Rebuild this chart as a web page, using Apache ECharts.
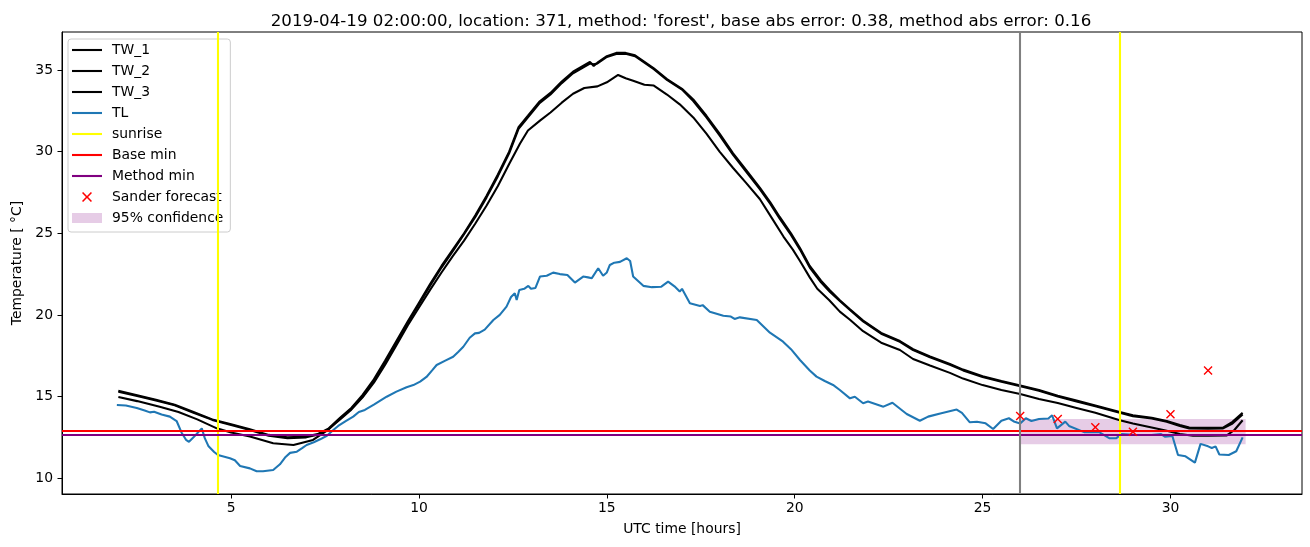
<!DOCTYPE html>
<html>
<head>
<meta charset="utf-8">
<script src="https://cdn.jsdelivr.net/npm/echarts@6/dist/echarts.min.js"></script>
<style>
html,body{margin:0;padding:0;background:#fff;}
#chart{width:1310px;height:547px;}
</style>
</head>
<body>
<div id="chart"></div>
<script>
// ---- data ----
const titleText = "2019-04-19 02:00:00, location: 371, method: 'forest', base abs error: 0.38, method abs error: 0.16";
const xTicks = [5, 10, 15, 20, 25, 30];
const yTicks = [10, 15, 20, 25, 30, 35];

const twTime = [2.0,2.5,3.0,3.5,4.0,4.5,5.0,5.5,6.0,6.5,7.0,7.3,7.6,7.9,8.2,8.5,8.8,9.1,9.4,9.7,10.0,10.3,10.6,10.9,11.2,11.5,11.8,12.1,12.4,12.65,12.9,13.2,13.5,13.8,14.1,14.4,14.55,14.65,14.75,15.0,15.25,15.5,15.75,16.0,16.25,16.6,17.0,17.3,17.65,18.0,18.36,18.7,19.07,19.35,19.6,19.9,20.14,20.4,20.7,20.94,21.2,21.47,21.82,22.3,22.8,23.15,23.6,24.13,24.48,25.0,25.5,25.95,26.5,27.0,27.5,28.0,28.65,29.0,29.5,29.9,30.25,30.5,31.0,31.4,31.65,31.92];
const tw1 = [15.35,15.08,14.8,14.5,14.05,13.6,13.3,13.0,12.65,12.5,12.55,12.7,13.05,13.7,14.3,15.1,16.05,17.2,18.4,19.6,20.75,21.9,23.0,24.0,25.0,26.1,27.3,28.6,30.0,31.5,32.2,33.05,33.6,34.3,34.9,35.3,35.5,35.25,35.45,35.85,36.05,36.05,35.9,35.5,35.1,34.45,33.85,33.2,32.2,31.1,29.9,28.9,27.8,26.9,26.0,25.0,24.1,23.0,22.1,21.5,20.9,20.35,19.65,18.9,18.4,17.9,17.45,17.0,16.65,16.25,15.95,15.7,15.4,15.05,14.75,14.45,14.05,13.85,13.7,13.5,13.25,13.1,13.08,13.1,13.45,14.0];
const tw2 = [15.3,15.03,14.76,14.46,14.0,13.57,13.25,12.95,12.6,12.45,12.5,12.66,13.0,13.65,14.25,15.0,15.95,17.1,18.3,19.5,20.65,21.8,22.9,23.9,24.95,26.0,27.2,28.5,29.9,31.4,32.1,32.95,33.5,34.2,34.8,35.2,35.4,35.35,35.4,35.8,35.98,36.0,35.85,35.45,35.05,34.4,33.8,33.1,32.1,31.0,29.8,28.8,27.7,26.8,25.9,24.9,24.0,22.9,22.0,21.4,20.85,20.3,19.6,18.85,18.35,17.85,17.4,16.95,16.6,16.2,15.9,15.66,15.36,15.0,14.7,14.4,14.0,13.8,13.65,13.45,13.2,13.05,13.03,13.05,13.35,13.9];

const tw3Time = [2.0,2.5,3.1,3.6,4.1,4.62,5.0,5.5,6.12,6.66,7.18,7.54,7.9,8.2,8.5,8.8,9.1,9.4,9.7,10.0,10.3,10.6,10.9,11.2,11.5,11.8,12.1,12.4,12.69,12.9,13.22,13.5,13.8,14.1,14.4,14.75,15.0,15.3,15.5,15.7,16.0,16.25,16.6,16.94,17.3,17.65,18.0,18.36,18.7,19.07,19.4,19.7,19.95,20.14,20.4,20.6,20.92,21.2,21.47,21.82,22.3,22.8,23.15,23.6,24.13,24.48,25.0,25.5,26.0,26.5,27.0,27.5,28.0,28.65,29.0,29.5,29.9,30.25,30.6,31.0,31.5,31.7,31.92];
const tw3 = [14.97,14.72,14.38,14.05,13.6,13.05,12.8,12.55,12.14,12.03,12.34,12.9,13.6,14.2,14.95,15.85,16.95,18.15,19.35,20.45,21.55,22.6,23.6,24.55,25.6,26.7,27.9,29.25,30.5,31.3,31.9,32.4,33.0,33.55,33.9,34.0,34.25,34.7,34.5,34.35,34.1,34.05,33.5,32.9,32.1,31.1,30.0,29.0,28.1,27.1,25.9,24.8,24.0,23.3,22.3,21.6,20.9,20.2,19.7,19.0,18.3,17.85,17.3,16.9,16.45,16.1,15.7,15.4,15.15,14.85,14.6,14.3,14.0,13.55,13.35,13.1,12.9,12.7,12.6,12.6,12.62,12.95,13.55];

const tlTime = [1.96,2.2,2.49,2.7,2.84,2.95,3.15,3.37,3.55,3.68,3.8,3.88,4.0,4.1,4.22,4.3,4.4,4.55,4.65,4.97,5.1,5.24,5.5,5.68,5.85,6.12,6.3,6.45,6.57,6.75,6.9,7.01,7.2,7.37,7.55,7.72,7.85,8.05,8.25,8.4,8.56,8.8,9.14,9.4,9.67,9.85,10.03,10.2,10.35,10.47,10.7,10.91,11.05,11.18,11.35,11.49,11.6,11.75,11.98,12.15,12.33,12.45,12.55,12.6,12.67,12.8,12.91,12.98,13.1,13.22,13.4,13.57,13.75,13.95,14.15,14.37,14.5,14.6,14.77,14.9,15.0,15.08,15.2,15.35,15.53,15.62,15.7,15.97,16.2,16.45,16.63,16.8,16.94,17.0,17.21,17.48,17.55,17.74,18.1,18.3,18.4,18.54,18.99,19.34,19.69,19.9,20.14,20.4,20.58,20.8,21.02,21.2,21.47,21.6,21.82,21.95,22.36,22.6,22.98,23.33,23.55,23.9,24.31,24.45,24.66,24.85,25.08,25.28,25.5,25.7,25.85,26.0,26.15,26.3,26.5,26.75,26.85,26.98,27.2,27.3,27.7,28.1,28.38,28.55,28.7,29.0,29.5,29.75,29.85,30.05,30.2,30.4,30.65,30.8,31.0,31.1,31.2,31.3,31.55,31.75,31.92];
const tl = [14.48,14.45,14.3,14.15,14.03,14.07,13.9,13.77,13.5,12.8,12.35,12.23,12.5,12.75,13.05,12.45,11.95,11.6,11.42,11.22,11.1,10.75,10.6,10.42,10.42,10.5,10.85,11.3,11.55,11.62,11.85,12.03,12.2,12.38,12.6,12.95,13.2,13.5,13.77,14.05,14.18,14.5,14.99,15.3,15.57,15.7,15.91,16.2,16.6,16.93,17.2,17.44,17.75,18.05,18.6,18.87,18.9,19.1,19.69,20.0,20.51,21.1,21.33,20.92,21.53,21.6,21.78,21.6,21.65,22.35,22.4,22.59,22.5,22.45,21.98,22.35,22.3,22.25,22.86,22.4,22.6,23.06,23.2,23.25,23.47,23.3,22.35,21.78,21.7,21.73,22.04,21.75,21.43,21.6,20.71,20.55,20.6,20.2,19.95,19.9,19.75,19.85,19.69,18.91,18.36,17.9,17.24,16.6,16.22,15.95,15.71,15.4,14.89,14.99,14.59,14.69,14.38,14.62,13.93,13.52,13.77,13.97,14.2,14.0,13.42,13.46,13.36,13.01,13.52,13.67,13.45,13.35,13.67,13.5,13.62,13.65,13.85,13.05,13.46,13.2,12.82,12.82,12.44,12.44,12.7,12.65,12.64,12.7,12.54,12.58,11.42,11.34,10.95,12.1,11.95,11.85,11.95,11.45,11.42,11.65,12.5];

const sunriseTimes = [4.65, 28.65];
const forecastStart = 26.0;
const baseMin = 12.88;
const methodMin = 12.66;
const sanderTime = [26, 27, 28, 29, 30, 31];
const sander = [13.81, 13.63, 13.12, 12.85, 13.91, 16.59];
const confTime = [26, 32];
const confLower = 12.07;
const confUpper = 13.63;

// ---- chart ----
const pairs = (xs, ys) => xs.map((x, i) => [x, ys[i]]);
const FONT = 'DejaVu Sans';
const LW = 2.08;
const lineSeries = (name, xs, ys, color) => ({
  name, type: 'line', data: pairs(xs, ys), symbol: 'none', showSymbol: false,
  lineStyle: { color, width: LW }, itemStyle: { color }, z: 3,
  emphasis: { disabled: true }, silent: true
});
const xSymbol = 'path://M1.1,0 L5,3.9 L8.9,0 L10,1.1 L6.1,5 L10,8.9 L8.9,10 L5,6.1 L1.1,10 L0,8.9 L3.9,5 L0,1.1 Z';
const lineIcon = 'path://M0,0 L30,0 L30,2.1 L0,2.1 Z';
const legendLine = (name, color) => ({ name, icon: lineIcon, itemStyle: { color } });

const chart = echarts.init(document.getElementById('chart'), null, { renderer: 'canvas' });
chart.setOption({
  animation: false,
  backgroundColor: '#fff',
  title: {
    text: titleText, left: 676, top: 8, textAlign: 'center',
    textStyle: { fontFamily: FONT, fontSize: 16.67, fontWeight: 'normal', color: '#000' }
  },
  grid: { left: 62, right: 8, top: 32, bottom: 53, show: true, borderColor: '#000', borderWidth: 1, backgroundColor: 'transparent', containLabel: false },
  legend: {
    orient: 'vertical', left: 68, top: 39,
    itemWidth: 30, itemHeight: 10, itemGap: 5,
    padding: [3, 7, 6, 4],
    borderColor: '#cccccc', borderWidth: 1, borderRadius: 3,
    backgroundColor: 'rgba(255,255,255,0.8)',
    textStyle: { fontFamily: FONT, fontSize: 13.9, color: '#000', lineHeight: 16, padding: [0, 0, 0, 5] },
    data: [
      legendLine('TW_1', '#000000'), legendLine('TW_2', '#000000'), legendLine('TW_3', '#000000'),
      legendLine('TL', '#1f77b4'), legendLine('sunrise', '#ffff00'), legendLine('Base min', '#ff0000'),
      legendLine('Method min', '#800080'),
      { name: 'Sander forecast', icon: xSymbol, itemStyle: { color: '#ff0000', opacity: 1 } },
      { name: '95% confidence', icon: 'rect', itemStyle: { color: 'rgba(128,0,128,0.2)' } }
    ]
  },
  xAxis: {
    type: 'value', min: 0.5, max: 33.5,
    name: 'UTC time [hours]', nameLocation: 'middle', nameGap: 28,
    nameTextStyle: { fontFamily: FONT, fontSize: 13.9, color: '#000' },
    axisLine: { show: true, lineStyle: { color: '#000', width: 1 } },
    axisTick: { show: true, customValues: xTicks, length: 4.5, lineStyle: { color: '#000', width: 1 } },
    axisLabel: { customValues: xTicks, margin: 7, fontFamily: FONT, fontSize: 13.9, color: '#000' },
    splitLine: { show: false }
  },
  yAxis: {
    type: 'value', min: 9.03, max: 37.33,
    name: 'Temperature [ °C]', nameLocation: 'middle', nameGap: 37, nameRotate: 90,
    nameTextStyle: { fontFamily: FONT, fontSize: 13.9, color: '#000' },
    axisLine: { show: true, lineStyle: { color: '#000', width: 1 } },
    axisTick: { show: true, customValues: yTicks, length: 4.5, lineStyle: { color: '#000', width: 1 } },
    axisLabel: { customValues: yTicks, margin: 9, fontFamily: FONT, fontSize: 13.9, color: '#000' },
    splitLine: { show: false }
  },
  series: [
    {
      name: '95% confidence', type: 'line', data: [], symbol: 'none', z: 1,
      lineStyle: { color: 'rgba(128,0,128,0.2)', width: 0 }, itemStyle: { color: 'rgba(128,0,128,0.2)' },
      markArea: {
        silent: true, itemStyle: { color: 'rgba(128,0,128,0.2)' }, label: { show: false },
        data: [[{ coord: [confTime[0], confLower] }, { coord: [confTime[1], confUpper] }]]
      }
    },
    lineSeries('TW_1', twTime, tw1, '#000000'),
    lineSeries('TW_2', twTime, tw2, '#000000'),
    lineSeries('TW_3', tw3Time, tw3, '#000000'),
    lineSeries('TL', tlTime, tl, '#1f77b4'),
    {
      name: 'sunrise', type: 'line', data: [], symbol: 'none', z: 4,
      lineStyle: { color: '#ffff00', width: LW }, itemStyle: { color: '#ffff00' },
      markLine: {
        silent: true, symbol: 'none', label: { show: false }, animation: false,
        lineStyle: { color: '#ffff00', width: LW, type: 'solid' },
        data: sunriseTimes.map(t => ({ xAxis: t }))
      }
    },
    {
      name: 'Base min', type: 'line', data: [], symbol: 'none', z: 4,
      lineStyle: { color: '#ff0000', width: LW }, itemStyle: { color: '#ff0000' },
      markLine: {
        silent: true, symbol: 'none', label: { show: false },
        lineStyle: { color: '#ff0000', width: LW, type: 'solid' },
        data: [{ yAxis: baseMin }]
      }
    },
    {
      name: 'Method min', type: 'line', data: [], symbol: 'none', z: 4,
      lineStyle: { color: '#800080', width: LW }, itemStyle: { color: '#800080' },
      markLine: {
        silent: true, symbol: 'none', label: { show: false },
        lineStyle: { color: '#800080', width: LW, type: 'solid' },
        data: [{ yAxis: methodMin }]
      }
    },
    {
      name: 'forecast start', type: 'line', data: [], symbol: 'none', z: 4,
      lineStyle: { color: '#808080', width: LW },
      markLine: {
        silent: true, symbol: 'none', label: { show: false },
        lineStyle: { color: '#808080', width: LW, type: 'solid' },
        data: [{ xAxis: forecastStart }]
      }
    },
    {
      name: 'Sander forecast', type: 'scatter', data: pairs(sanderTime, sander), z: 5,
      symbol: xSymbol, symbolSize: 9, itemStyle: { color: '#ff0000', opacity: 1 }, silent: true
    }
  ]
});
</script>
</body>
</html>
